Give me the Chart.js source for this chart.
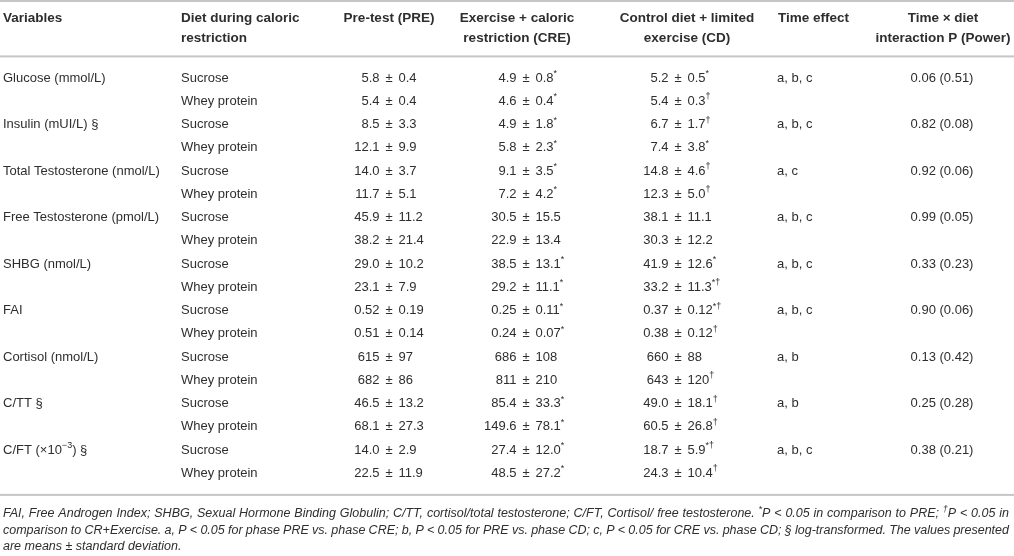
<!DOCTYPE html>
<html>
<head>
<meta charset="utf-8">
<script src="https://cdn.jsdelivr.net/npm/chart.js@4.4.0/dist/chart.umd.min.js"></script>
<style>
html, body { margin: 0; padding: 0; background: #fff; }
canvas { display: block; }
</style>
</head>
<body>
<canvas id="tbl" width="1014" height="556"></canvas>
<script>
// table data
const variables = ['Glucose (mmol/L)', 'Insulin (mUI/L) §', 'Total Testosterone (nmol/L)',
  'Free Testosterone (pmol/L)', 'SHBG (nmol/L)', 'FAI', 'Cortisol (nmol/L)', 'C/TT §', 'C/FT (×10^{−3}) §']
const diets = ['Sucrose', 'Whey protein']
const preTest = ['5.8 ± 0.4', '5.4 ± 0.4', '8.5 ± 3.3', '12.1 ± 9.9', '14.0 ± 3.7', '11.7 ± 5.1',
  '45.9 ± 11.2', '38.2 ± 21.4', '29.0 ± 10.2', '23.1 ± 7.9', '0.52 ± 0.19', '0.51 ± 0.14',
  '615 ± 97', '682 ± 86', '46.5 ± 13.2', '68.1 ± 27.3', '14.0 ± 2.9', '22.5 ± 11.9']
const exerciseCR = ['4.9 ± 0.8*', '4.6 ± 0.4*', '4.9 ± 1.8*', '5.8 ± 2.3*', '9.1 ± 3.5*', '7.2 ± 4.2*',
  '30.5 ± 15.5', '22.9 ± 13.4', '38.5 ± 13.1*', '29.2 ± 11.1*', '0.25 ± 0.11*', '0.24 ± 0.07*',
  '686 ± 108', '811 ± 210', '85.4 ± 33.3*', '149.6 ± 78.1*', '27.4 ± 12.0*', '48.5 ± 27.2*']
const controlCD = ['5.2 ± 0.5*', '5.4 ± 0.3†', '6.7 ± 1.7†', '7.4 ± 3.8*', '14.8 ± 4.6†', '12.3 ± 5.0†',
  '38.1 ± 11.1', '30.3 ± 12.2', '41.9 ± 12.6*', '33.2 ± 11.3*†', '0.37 ± 0.12*†', '0.38 ± 0.12†',
  '660 ± 88', '643 ± 120†', '49.0 ± 18.1†', '60.5 ± 26.8†', '18.7 ± 5.9*†', '24.3 ± 10.4†']
const timeEffect = ['a, b, c', 'a, b, c', 'a, c', 'a, b, c', 'a, b, c', 'a, b, c', 'a, b', 'a, b', 'a, b, c']
const interactionP = ['0.06 (0.51)', '0.82 (0.08)', '0.92 (0.06)', '0.99 (0.05)', '0.33 (0.23)',
  '0.90 (0.06)', '0.13 (0.42)', '0.25 (0.28)', '0.38 (0.21)']

const headers = [
  ['Variables'],
  ['Diet during caloric', 'restriction'],
  ['Pre-test (PRE)'],
  ['Exercise + caloric', 'restriction (CRE)'],
  ['Control diet + limited', 'exercise (CD)'],
  ['Time effect'],
  ['Time × diet', 'interaction P (Power)']
]
const footnote = [
  'FAI, Free Androgen Index; SHBG, Sexual Hormone Binding Globulin; C/TT, cortisol/total testosterone; C/FT, Cortisol/ free testosterone. *P < 0.05 in comparison to PRE; †P < 0.05 in',
  'comparison to CR+Exercise. a, P < 0.05 for phase PRE vs. phase CRE; b, P < 0.05 for PRE vs. phase CD; c, P < 0.05 for CRE vs. phase CD; § log-transformed. The values presented',
  'are means ± standard deviation.'
]

// layout
const FAMILY = '"Liberation Sans", Arial, Helvetica, sans-serif'
const TEXT = '#2e2e2e'
const RULE = '#c6c6c6'
// column anchors: x and how the cell is aligned there
const columns = [
  { x: 3,   align: 'left' },
  { x: 181, align: 'left' },
  { x: 389, align: 'pm' },
  { x: 526, align: 'pm' },
  { x: 678, align: 'pm' },
  { x: 777, align: 'left' },
  { x: 942, align: 'center' }
]
const headerAlign = [
  { x: 3, align: 'left' }, { x: 181, align: 'left' }, { x: 389, align: 'center' },
  { x: 517, align: 'center' }, { x: 687, align: 'center' }, { x: 778, align: 'left' },
  { x: 943, align: 'center' }
]

const nRows = variables.length * diets.length

function cellDataset(texts, col, stride) {
  return {
    data: texts.map((t, i) => ({ x: columns[col].x, y: i * stride })),
    cells: texts,
    align: columns[col].align,
    pointRadius: 0
  }
}

const datasets = [
  cellDataset(variables, 0, 2),
  cellDataset(Array.from({ length: nRows }, (_, r) => diets[r % 2]), 1, 1),
  cellDataset(preTest, 2, 1),
  cellDataset(exerciseCR, 3, 1),
  cellDataset(controlCD, 4, 1),
  cellDataset(timeEffect, 5, 2),
  cellDataset(interactionP, 6, 2)
]

// rich text: '*' and '†' and ^{..} are superscript
function parseRich(str) {
  const segs = []
  let buf = ''
  let i = 0
  while (i < str.length) {
    if (str.startsWith('^{', i)) {
      if (buf) segs.push({ t: buf, sup: false })
      buf = ''
      const j = str.indexOf('}', i)
      segs.push({ t: str.slice(i + 2, j), sup: true })
      i = j + 1
      continue
    }
    const ch = str[i]
    if (ch === '*' || ch === '†') {
      if (buf) segs.push({ t: buf, sup: false })
      buf = ''
      segs.push({ t: ch, sup: true })
    } else {
      buf += ch
    }
    i++
  }
  if (buf) segs.push({ t: buf, sup: false })
  return segs
}

function fontOf(f, sup) {
  const size = sup ? Math.round(f.size * 0.7) : f.size
  return (f.style || 'normal') + ' ' + (f.weight || 'normal') + ' ' + size + 'px ' + FAMILY
}

function richWidth(ctx, str, f) {
  let w = 0
  parseRich(str).forEach(s => { ctx.font = fontOf(f, s.sup); w += ctx.measureText(s.t).width })
  return w
}

function drawRich(ctx, str, x, y, align, f) {
  const w = richWidth(ctx, str, f)
  let cx = align === 'center' ? x - w / 2 : align === 'right' ? x - w : x
  ctx.textAlign = 'left'
  parseRich(str).forEach(s => {
    ctx.font = fontOf(f, s.sup)
    ctx.fillText(s.t, cx, s.sup ? y - f.size * 0.33 : y)
    cx += ctx.measureText(s.t).width
  })
}

function drawJustified(ctx, str, x, y, width, f, justify) {
  const words = str.split(' ')
  const ws = words.map(w => richWidth(ctx, w, f))
  const total = ws.reduce((a, b) => a + b, 0)
  ctx.font = fontOf(f, false)
  const space = ctx.measureText(' ').width
  const gap = justify ? (width - total) / (words.length - 1) : space
  let cx = x
  words.forEach((w, i) => { drawRich(ctx, w, cx, y, 'left', f); cx += ws[i] + gap })
}

const tablePlugin = {
  id: 'tablePlugin',
  afterDatasetsDraw(chart) {
    const ctx = chart.ctx
    const area = chart.chartArea
    ctx.save()
    ctx.textBaseline = 'middle'

    // rules
    ctx.fillStyle = RULE
    ctx.fillRect(0, 0, chart.width, 2)
    ctx.fillRect(0, area.top - 11, chart.width, 2)
    ctx.fillRect(0, area.bottom + 9, chart.width, 2)

    // header
    ctx.fillStyle = TEXT
    const hf = { size: 13.5, weight: 'bold' }
    headers.forEach((lines, c) => {
      lines.forEach((line, k) => {
        drawRich(ctx, line, headerAlign[c].x, 18.5 + k * 19.5, headerAlign[c].align, hf)
      })
    })

    // body cells
    const bf = { size: 13 }
    chart.data.datasets.forEach((ds, di) => {
      const meta = chart.getDatasetMeta(di)
      meta.data.forEach((pt, i) => {
        const txt = ds.cells[i]
        if (ds.align === 'pm') {
          const parts = txt.split(' ± ')
          drawRich(ctx, parts[0], pt.x - 9.5, pt.y, 'right', bf)
          drawRich(ctx, '±', pt.x, pt.y, 'center', bf)
          drawRich(ctx, parts[1], pt.x + 9.5, pt.y, 'left', bf)
        } else {
          drawRich(ctx, txt, pt.x, pt.y, ds.align, bf)
        }
      })
    })

    // footnote
    const ff = { size: 12.5, style: 'italic' }
    footnote.forEach((line, k) => {
      drawJustified(ctx, line, 3, area.bottom + 29 + k * 16.5, 1006, ff, k < footnote.length - 1)
    })
    ctx.restore()
  }
}

new Chart(document.getElementById('tbl').getContext('2d'), {
  type: 'scatter',
  data: { datasets: datasets },
  options: {
    responsive: false,
    animation: false,
    events: [],
    layout: { padding: { top: 66.4, bottom: 71.1, left: 0, right: 0 } },
    plugins: { legend: { display: false }, tooltip: { enabled: false } },
    scales: {
      x: { type: 'linear', min: 0, max: 1014, display: false },
      y: { type: 'linear', min: -0.5, max: nRows - 0.5, reverse: true, display: false }
    }
  },
  plugins: [tablePlugin]
})
</script>
</body>
</html>
